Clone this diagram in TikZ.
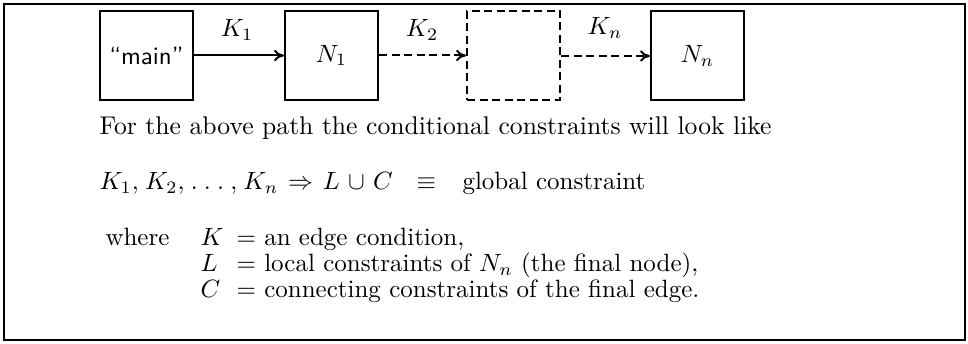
\documentclass[tikz,border=0pt]{standalone}
\usetikzlibrary{arrows.meta}
\begin{document}
\begin{tikzpicture}[x=0.4pt,y=-0.4pt,
  box/.style={draw,line width=0.8pt,minimum width=37.2pt,minimum height=35.6pt,inner sep=0pt},
  dbox/.style={box,dash pattern=on 3.2pt off 1.8pt},
  conn/.style={line width=0.8pt,-{To[length=4pt,width=4.5pt]}},
  dconn/.style={conn,dash pattern=on 3.2pt off 1.8pt},
  txt/.style={anchor=base west,inner sep=0pt}]
\useasboundingbox (0,0) rectangle (968,344);
\draw[line width=0.9pt] (4,4) rectangle (965,340);
\node[box] (main) at (146.5,55.5) {\sffamily ``main''};
\node[box] (n1) at (331.5,55.5) {$N_1$};
\node[dbox] (d) at (513.5,55.5) {};
\node[box] (nn) at (697.5,56) {$N_n$};
\draw[conn] (main) -- (n1);
\draw[dconn] (n1) -- (d);
\draw[dconn] (d.east |- nn) -- (nn);
\node (k1) at (237,30) {$K_1$};
\node (k2) at (422,30) {$K_2$};
\node (kn) at (605,28) {$K_n$};
\node[txt] (l1) at (99,135) {\fontsize{10.25}{12}\selectfont For the above path the conditional constraints will look like};
\node[txt] (f) at (99,190) {\thinmuskip=4.5mu\medmuskip=6mu\thickmuskip=7mu$K_1, K_2, \ldots, K_n \Rightarrow L \cup C$};
\node[txt] (eq) at (416,190) {$\equiv$};
\node[txt] (gc) at (462,190) {global constraint};
\node[txt] (wh) at (105,246) {where};
\node[txt] (vk) at (200,246) {$K$};
\node[txt] (dk) at (236,246) {$=$ an edge condition,};
\node[txt] (vl) at (200,272) {$L$};
\node[txt] (dl) at (236,272) {$=$ local constraints of $N_n$ (the final node),};
\node[txt] (vc) at (200,298) {$C$};
\node[txt] (dc) at (236,298) {$=$ connecting constraints of the final edge.};
\end{tikzpicture}
\end{document}
